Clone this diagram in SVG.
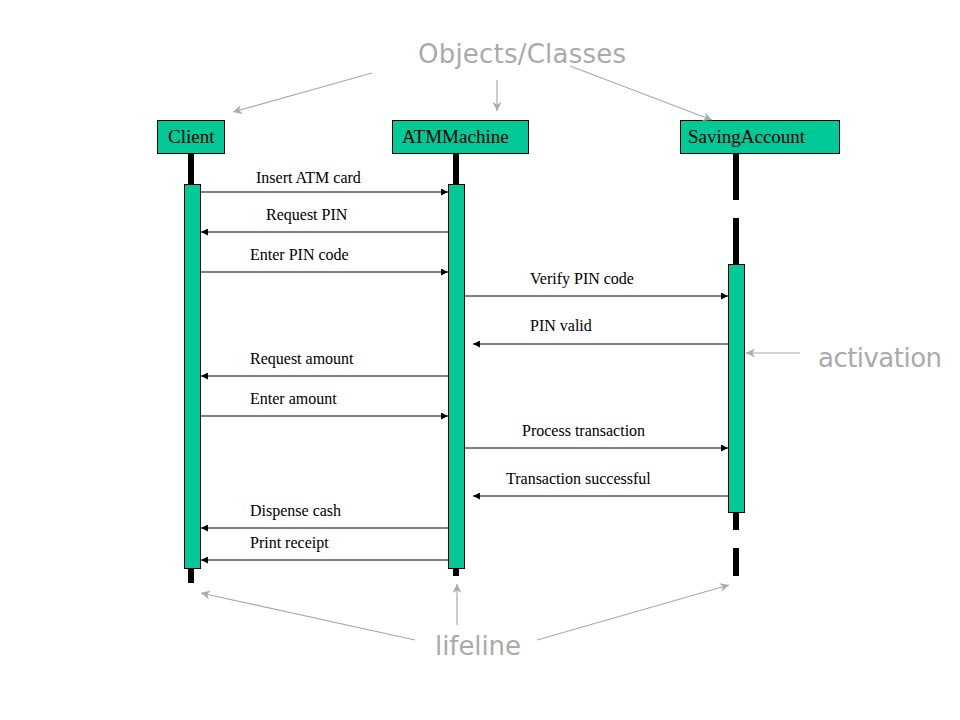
<svg xmlns="http://www.w3.org/2000/svg" width="960" height="720" viewBox="0 0 960 720">
<defs>
<marker id="ah" viewBox="0 0 10 10" refX="10" refY="5" markerWidth="9" markerHeight="7" markerUnits="userSpaceOnUse" orient="auto"><path d="M0,0 L10,5 L0,10 z" fill="#000"/></marker>
<marker id="gh" viewBox="0 0 10 10" refX="10" refY="5" markerWidth="12" markerHeight="9" markerUnits="userSpaceOnUse" orient="auto"><path d="M0,0 L10,5 L0,10 L3,5 z" fill="#aaa"/></marker>
</defs>
<style>
.box{fill:#00C896;stroke:#000;stroke-width:1}
.act{fill:#00C896;stroke:#000;stroke-width:1}
.life{stroke:#000;stroke-width:6}
.msg{stroke:#000;stroke-width:1;fill:none;marker-end:url(#ah)}
.note{stroke:#aaa;stroke-width:1.2;fill:none;marker-end:url(#gh)}
.hdr{font-family:"Liberation Serif",serif;font-size:19px;fill:#000}
.lbl{font-family:"Liberation Serif",serif;font-size:16px;fill:#000}
.ann{font-family:"DejaVu Sans",sans-serif;font-size:26px;fill:#aaa}
</style>
<rect width="960" height="720" fill="#fff"/>
<g id="client">
<line class="life" x1="191" y1="154" x2="191" y2="184"/>
<line class="life" x1="191" y1="568" x2="191" y2="583"/>
<rect class="box" x="157.5" y="120.5" width="67" height="33"/>
<text class="hdr" x="168" y="143">Client</text>
<rect class="act" x="184.5" y="184.5" width="16" height="384"/>
</g>
<g id="atm">
<line class="life" x1="456" y1="153" x2="456" y2="184"/>
<line class="life" x1="456" y1="568" x2="456" y2="576"/>
<rect class="box" x="392.5" y="120.5" width="136" height="33"/>
<text class="hdr" x="402" y="143">ATMMachine</text>
<rect class="act" x="448.5" y="184.5" width="16" height="384"/>
</g>
<g id="saving">
<line class="life" x1="736" y1="153" x2="736" y2="200"/>
<line class="life" x1="736" y1="218" x2="736" y2="265"/>
<line class="life" x1="736" y1="512" x2="736" y2="530"/>
<line class="life" x1="736" y1="548" x2="736" y2="576"/>
<rect class="box" x="680.5" y="120.5" width="159" height="33"/>
<text class="hdr" x="688" y="143">SavingAccount</text>
<rect class="act" x="728.5" y="264.5" width="16" height="248"/>
</g>
<g id="connectors">
<line class="msg" x1="201" y1="192" x2="448" y2="192"/>
<line class="msg" x1="448" y1="232" x2="201" y2="232"/>
<line class="msg" x1="201" y1="272" x2="448" y2="272"/>
<line class="msg" x1="464" y1="296" x2="728" y2="296"/>
<line class="msg" x1="728" y1="344" x2="473" y2="344"/>
<line class="msg" x1="448" y1="376" x2="201" y2="376"/>
<line class="msg" x1="201" y1="416" x2="448" y2="416"/>
<line class="msg" x1="464" y1="448" x2="728" y2="448"/>
<line class="msg" x1="728" y1="496" x2="473" y2="496"/>
<line class="msg" x1="448" y1="528" x2="201" y2="528"/>
<line class="msg" x1="448" y1="560" x2="201" y2="560"/>
<line class="note" x1="372" y1="73" x2="233" y2="112"/>
<line class="note" x1="497" y1="80" x2="497" y2="111"/>
<line class="note" x1="570" y1="66" x2="712" y2="120"/>
<line class="note" x1="800" y1="353" x2="746" y2="353"/>
<line class="note" x1="415" y1="640" x2="201" y2="593"/>
<line class="note" x1="457" y1="625" x2="457" y2="584"/>
<line class="note" x1="537" y1="640" x2="729" y2="585"/>
</g>
<g id="labels">
<text class="lbl" x="256" y="183">Insert ATM card</text>
<text class="lbl" x="266" y="220">Request PIN</text>
<text class="lbl" x="250" y="260">Enter PIN code</text>
<text class="lbl" x="530" y="284">Verify PIN code</text>
<text class="lbl" x="530" y="331">PIN valid</text>
<text class="lbl" x="250" y="364">Request amount</text>
<text class="lbl" x="250" y="404">Enter amount</text>
<text class="lbl" x="522" y="436">Process transaction</text>
<text class="lbl" x="506" y="484">Transaction successful</text>
<text class="lbl" x="250" y="516">Dispense cash</text>
<text class="lbl" x="250" y="548">Print receipt</text>
<text class="ann" x="522" y="63" text-anchor="middle" textLength="208">Objects/Classes</text>
<text class="ann" x="880" y="367" text-anchor="middle" textLength="124">activation</text>
<text class="ann" x="478" y="655" text-anchor="middle" textLength="86">lifeline</text>
</g>
</svg>
